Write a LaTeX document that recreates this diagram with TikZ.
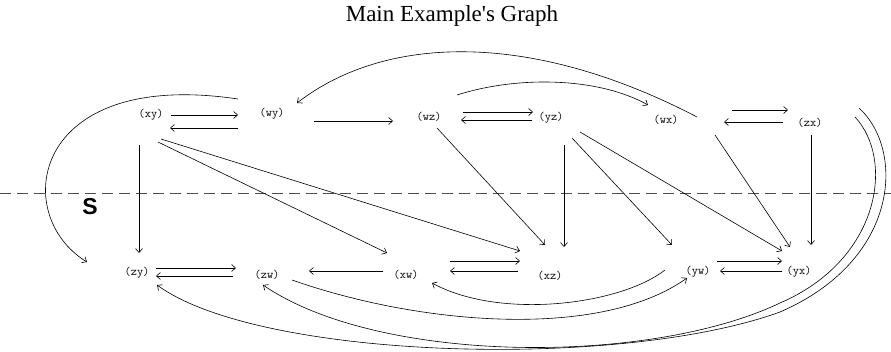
\documentclass[tikz,border=0pt]{standalone}
\usepackage{fontspec}
\setmainfont{Liberation Serif}
\setsansfont{Liberation Sans}
\usepackage{tikz}
\usetikzlibrary{arrows.meta,calc}

\begin{document}
\begin{tikzpicture}[x=1pt,y=-1pt,>={Straight Barb[length=4pt,width=7pt]},
   st/.style={font=\ttfamily\fontsize{12}{14}\selectfont,inner sep=1pt},
   ed/.style={->,line width=0.6pt},
   cut/.style={line width=0.5pt,black!70,dash pattern=on 11pt off 6pt}]
  \useasboundingbox (0,0) rectangle (891,352);
  \node[anchor=base,font=\fontsize{23}{26}\selectfont] (title) at (452,22) {Main Example\textquotesingle s Graph};
  % upper row
  \node[st] (xy) at (151,115) {(xy)};
  \node[st] (wy) at (272,114) {(wy)};
  \node[st] (wz) at (429,117) {(wz)};
  \node[st] (yz) at (551,118) {(yz)};
  \node[st] (wx) at (666,120) {(wx)};
  \node[st] (zx) at (810,123) {(zx)};
  % lower row
  \node[st] (zy) at (137,273) {(zy)};
  \node[st] (zw) at (267,275) {(zw)};
  \node[st] (xw) at (406,275) {(xw)};
  \node[st] (xz) at (550,276) {(xz)};
  \node[st] (yw) at (698,272) {(yw)};
  \node[st] (yx) at (799,272) {(yx)};
  % the cut
  \coordinate (cutl) at (0,193);
  \coordinate (cutr) at (891,193);
  \draw[cut] (cutl) -- (cutr);
  \node[anchor=base,font=\sffamily\bfseries\fontsize{23}{26}\selectfont] (side) at (90,215) {S};
  % pairs
  \draw[ed] ($(xy)+(20,0)$) -- ($(wy)+(-34,1)$);
  \draw[ed] ($(wy)+(-34,14)$) -- ($(xy)+(19,13)$);
  \draw[ed] ($(wy)+(42,7)$) -- ($(wz)+(-36,4)$);
  \draw[ed] ($(wz)+(34,-5)$) -- ($(yz)+(-18,-6)$);
  \draw[ed] ($(yz)+(-19,2)$) -- ($(wz)+(32,3)$);
  \draw[ed] ($(wx)+(66,-10)$) -- ($(zx)+(-22,-13)$);
  \draw[ed] ($(zx)+(-27,-1)$) -- ($(wx)+(58,2)$);
  \draw[ed] ($(zy)+(19,-5)$) -- ($(zw)+(-31,-7)$);
  \draw[ed] ($(zw)+(-34,1)$) -- ($(zy)+(19,3)$);
  \draw[ed] ($(xw)+(-23,-4)$) -- ($(zw)+(42,-4)$);
  \draw[ed] ($(xw)+(44,-14)$) -- ($(xz)+(-30,-15)$);
  \draw[ed] ($(xz)+(-32,-5)$) -- ($(xw)+(44,-4)$);
  \draw[ed] ($(yw)+(19,-11)$) -- ($(yx)+(-17,-11)$);
  \draw[ed] ($(yx)+(-17,-1)$) -- ($(yw)+(22,-1)$);
  % across the cut
  \draw[ed] ($(xy)+(-12,30)$) -- ($(zy)+(2,-20)$);
  \draw[ed] ($(xy)+(7,27)$) -- ($(xw)+(-19,-22)$);
  \draw[ed] ($(xy)+(10,24)$) -- ($(xz)+(-30,-25)$);
  \draw[ed] ($(wz)+(8,11)$) -- ($(xz)+(-5,-31)$);
  \draw[ed] ($(yz)+(13,27)$) -- ($(xz)+(14,-29)$);
  \draw[ed] ($(yz)+(21,20)$) -- ($(yw)+(-26,-27)$);
  \draw[ed] ($(yz)+(29,14)$) -- ($(yx)+(-17,-21)$);
  \draw[ed] ($(wx)+(49,15)$) -- ($(yx)+(-9,-25)$);
  \draw[ed] ($(zx)+(1,12)$) -- ($(yx)+(12,-27)$);
  % curves
  \draw[ed] ($(wz)+(28,-22)$) .. controls (520,75) and (600,78) .. ($(wx)+(-18,-15)$);
  \draw[ed] ($(wx)+(31,-3)$) .. controls (530,30) and (385,35) .. ($(wy)+(25,-11)$);
  \draw[ed] ($(wy)+(-34,-15)$) .. controls (30,68) and (10,215) .. ($(zy)+(-50,-11)$);
  \draw[ed] ($(yw)+(-33,-2)$) .. controls (620,305) and (500,320) .. ($(xw)+(26,8)$);
  \draw[ed] ($(zw)+(25,5)$) .. controls (420,325) and (600,340) .. ($(yw)+(-11,6)$);
  \draw[ed] ($(zx)+(45,-6)$) .. controls (895,160) and (880,260) .. (780,303)
     .. controls (650,365) and (380,365) .. ($(zw)+(-4,10)$);
  \draw[ed] ($(zx)+(49,-15)$) .. controls (905,150) and (900,260) .. (780,312)
     .. controls (620,370) and (260,360) .. ($(zy)+(20,12)$);
\end{tikzpicture}
\end{document}
